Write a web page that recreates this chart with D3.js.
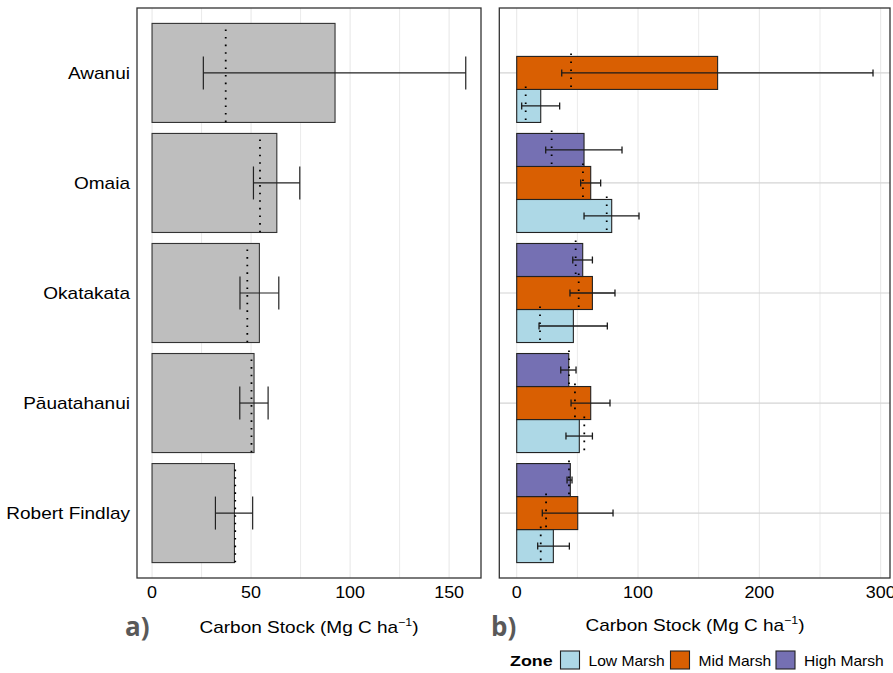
<!DOCTYPE html>
<html>
<head>
<meta charset="utf-8">
<script src="https://cdn.jsdelivr.net/npm/d3@7"></script>
<style>
  body { margin: 0; background: #fff; }
  text { font-family: "Liberation Sans", Arial, sans-serif; }
</style>
</head>
<body>
<div id="chart"></div>
<script>
// ---- data ----
const sites = ["Awanui", "Omaia", "Okatakata", "Pāuatahanui", "Robert Findlay"];
const zones = ["Low Marsh", "Mid Marsh", "High Marsh"];
const zoneColors = ["#add8e6", "#d95f02", "#7570b3"];

// panel a: site means with error range and median (dotted)
const siteMean = [92.4, 63, 54.2, 51.5, 41.6];
const siteLow = [25.9, 51.2, 44.4, 44.3, 32];
const siteHigh = [158.4, 74.6, 64, 58.6, 50.8];
const siteMedian = [37.2, 54.5, 48.1, 50.2, 42];

// panel b: per site and zone (null = no data)
const zoneMean = {
  "Low Marsh":  [19.8, 78.3, 46.7, 51.6, 30.2],
  "Mid Marsh":  [165.6, 61, 62.4, 61, 50.3],
  "High Marsh": [null, 55.5, 54.4, 42.9, 44.2]
};
const zoneLow = {
  "Low Marsh":  [4.1, 55.5, 18.4, 40.6, 17.3],
  "Mid Marsh":  [37.1, 52.7, 43.9, 44.8, 21.1],
  "High Marsh": [null, 23.9, 46.2, 36.3, 41.5]
};
const zoneHigh = {
  "Low Marsh":  [35.4, 100.8, 74.7, 62.4, 43.4],
  "Mid Marsh":  [293.7, 69.2, 81, 76.9, 79.4],
  "High Marsh": [null, 86.8, 62.4, 48.9, 45.6]
};
const zoneMedian = {
  "Low Marsh":  [7.4, 74.2, 19.2, 55.7, 19.8],
  "Mid Marsh":  [44.8, 54.6, 51.1, 48, 24.2],
  "High Marsh": [null, 28.8, 48.6, 43.1, 43.1]
};

const xTicksA = [0, 50, 100, 150];
const xTicksB = [0, 100, 200, 300];

// ---- layout ----
const W = 893, H = 673;
const plotTop = 8, plotBottom = 578;
const sx = 1.12; // the source image is stretched a little horizontally

const svg = d3.select("#chart").append("svg")
  .attr("width", W).attr("height", H);

const y = d3.scaleBand().domain(sites).range([plotTop, plotBottom])
  .paddingInner(0.1).paddingOuter(0.14);

function stretchText(g, x, yy, opts) {
  const t = g.append("text")
    .attr("transform", `translate(${x},${yy}) scale(${opts.sx || sx},1)`)
    .attr("text-anchor", opts.anchor || "middle")
    .attr("font-size", opts.size || 16)
    .attr("fill", opts.fill || "#000");
  if (opts.weight) t.attr("font-weight", opts.weight);
  if (opts.family) t.style("font-family", opts.family);
  return t;
}

function axisTitle(g, x, yy) {
  const t = stretchText(g, x, yy, { size: 17 });
  t.append("tspan").text("Carbon Stock (Mg C ha");
  t.append("tspan").attr("dy", -7).attr("font-size", 11).text("−1");
  t.append("tspan").attr("dy", 7).text(")");
}

function panel(x, left, right, ticks, minors, hGrid) {
  const g = svg.append("g");
  // grid
  g.selectAll(".minor").data(minors).join("line")
    .attr("x1", d => x(d)).attr("x2", d => x(d))
    .attr("y1", plotTop).attr("y2", plotBottom)
    .attr("stroke", "#ebebeb").attr("stroke-width", 1);
  g.selectAll(".major").data(ticks).join("line")
    .attr("x1", d => x(d)).attr("x2", d => x(d))
    .attr("y1", plotTop).attr("y2", plotBottom)
    .attr("stroke", "#e6e6e6").attr("stroke-width", 1);
  if (hGrid) {
    g.selectAll(".hgrid").data(sites).join("line")
      .attr("x1", left).attr("x2", right)
      .attr("y1", d => y(d) + y.bandwidth() / 2)
      .attr("y2", d => y(d) + y.bandwidth() / 2)
      .attr("stroke", "#d4d4d4").attr("stroke-width", 1.2);
  }
  // tick labels
  ticks.forEach(t => {
    stretchText(svg, x(t), 598, { size: 16 }).text(t);
  });
  return g;
}

// ---- panel a ----
const xa = d3.scaleLinear().domain([-7.6, 166.1]).range([137, 481]);
const ga = panel(xa, 137, 481, xTicksA, [25, 75, 125], false);

ga.selectAll(".bar").data(sites).join("rect")
  .attr("x", xa(0)).attr("y", d => y(d))
  .attr("width", (d, i) => xa(siteMean[i]) - xa(0))
  .attr("height", y.bandwidth())
  .attr("fill", "#bebebe").attr("stroke", "#333").attr("stroke-width", 1.1);

ga.selectAll(".med").data(sites).join("line")
  .attr("x1", (d, i) => xa(siteMedian[i])).attr("x2", (d, i) => xa(siteMedian[i]))
  .attr("y1", d => y(d) + 6).attr("y2", d => y(d) + y.bandwidth())
  .attr("stroke", "#000").attr("stroke-width", 1.8)
  .attr("stroke-dasharray", "1.6,6");

const capA = 16.5;
sites.forEach((s, i) => {
  const cy = y(s) + y.bandwidth() / 2;
  const eb = ga.append("g").attr("stroke", "#222").attr("stroke-width", 1.2);
  eb.append("line").attr("x1", xa(siteLow[i])).attr("x2", xa(siteHigh[i]))
    .attr("y1", cy).attr("y2", cy);
  [siteLow[i], siteHigh[i]].forEach(v => {
    eb.append("line").attr("x1", xa(v)).attr("x2", xa(v))
      .attr("y1", cy - capA).attr("y2", cy + capA);
  });
});

svg.append("rect").attr("x", 137).attr("y", plotTop)
  .attr("width", 481 - 137).attr("height", plotBottom - plotTop)
  .attr("fill", "none").attr("stroke", "#333").attr("stroke-width", 1.3);

// site labels
sites.forEach(s => {
  stretchText(svg, 130, y(s) + y.bandwidth() / 2 + 6, { anchor: "end", size: 17 }).text(s);
});

axisTitle(svg, 309, 633);

// ---- panel b ----
const xb = d3.scaleLinear().domain([-14.35, 307.7]).range([499.3, 890]);
const gb = panel(xb, 499.3, 890, xTicksB, [50, 150, 250], true);

// top to bottom inside a site: High, Mid, Low
const yz = d3.scaleBand().domain(["High Marsh", "Mid Marsh", "Low Marsh"])
  .range([0, y.bandwidth()]);

const zoneRows = zones.map(z => sites.map((s, i) => ({
  s, z, m: zoneMean[z][i], lo: zoneLow[z][i], hi: zoneHigh[z][i], med: zoneMedian[z][i]
})).filter(d => d.m !== null));

zoneRows.forEach((rows, zi) => {
  gb.selectAll(".bar-" + zi).data(rows).join("rect")
    .attr("x", xb(0)).attr("y", d => y(d.s) + yz(d.z))
    .attr("width", d => xb(d.m) - xb(0))
    .attr("height", yz.bandwidth())
    .attr("fill", zoneColors[zi]).attr("stroke", "#222").attr("stroke-width", 1.1);
});

zoneRows.forEach((rows, zi) => {
  gb.selectAll(".med-" + zi).data(rows).join("line")
    .attr("x1", d => xb(d.med)).attr("x2", d => xb(d.med))
    .attr("y1", d => y(d.s) + yz(d.z) - 3).attr("y2", d => y(d.s) + yz(d.z) + yz.bandwidth())
    .attr("stroke", "#000").attr("stroke-width", 1.8)
    .attr("stroke-dasharray", "1.6,6.4");

  rows.forEach(d => {
    const cy = y(d.s) + yz(d.z) + yz.bandwidth() / 2;
    const eb = gb.append("g").attr("stroke", "#1a1a1a").attr("stroke-width", 1.3);
    eb.append("line").attr("x1", xb(d.lo)).attr("x2", xb(d.hi))
      .attr("y1", cy).attr("y2", cy);
    [d.lo, d.hi].forEach(v => {
      eb.append("line").attr("x1", xb(v)).attr("x2", xb(v))
        .attr("y1", cy - 3.5).attr("y2", cy + 3.5);
    });
  });
});

svg.append("rect").attr("x", 499.3).attr("y", plotTop)
  .attr("width", 890 - 499.3).attr("height", plotBottom - plotTop)
  .attr("fill", "none").attr("stroke", "#333").attr("stroke-width", 1.3);

axisTitle(svg, 695, 631);

// panel letters
const letter = { anchor: "start", size: 26, weight: "bold", fill: "#595959", family: "'Open Sans', sans-serif", sx: 1 };
stretchText(svg, 125, 636, letter).text("a)");
stretchText(svg, 491, 636, letter).text("b)");

// ---- legend ----
const lg = svg.append("g");
stretchText(lg, 510, 666, { anchor: "start", size: 15.5, weight: "bold", sx: 1.15 }).text("Zone");
const keyX = [560.5, 670.5, 776];
zones.forEach((z, i) => {
  lg.append("rect").attr("x", keyX[i]).attr("y", 651)
    .attr("width", 19).attr("height", 18)
    .attr("fill", zoneColors[i]).attr("stroke", "#222").attr("stroke-width", 1.1);
  stretchText(lg, keyX[i] + 28, 666, { anchor: "start", size: 15, sx: 1.04 }).text(z);
});
</script>
</body>
</html>
